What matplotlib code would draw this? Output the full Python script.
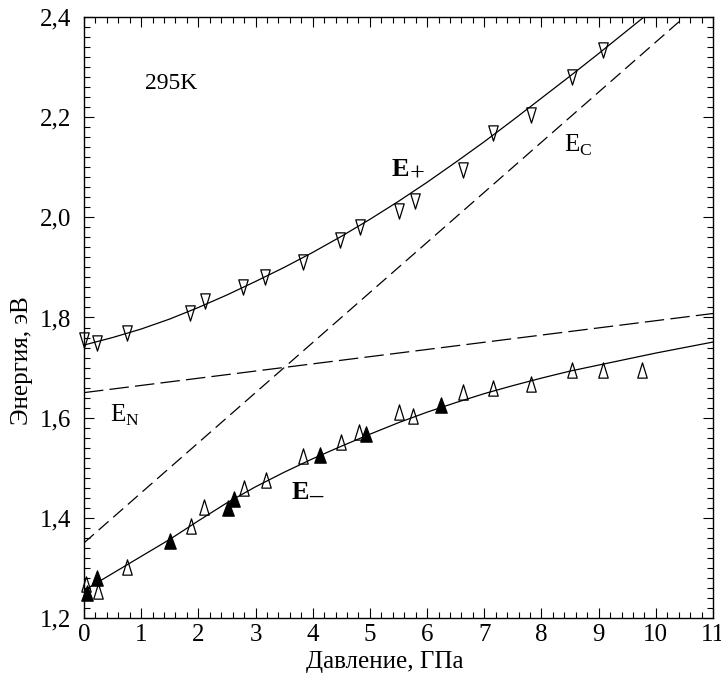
import numpy as np
import matplotlib
matplotlib.use('Agg')
import matplotlib.pyplot as plt
from matplotlib.path import Path
from matplotlib.ticker import MultipleLocator, FuncFormatter

plt.rcParams['font.family'] = ['Liberation Serif', 'DejaVu Serif']
plt.rcParams['mathtext.fontset'] = 'custom'
plt.rcParams['mathtext.rm'] = 'Liberation Serif'
plt.rcParams['mathtext.bf'] = 'Liberation Serif:bold'
plt.rcParams['lines.scale_dashes'] = False

# E+ data (open down triangles)
ep_x = [0.0, 0.23, 0.76, 1.85, 2.12, 2.78, 3.16, 3.83, 4.48, 4.83, 5.51, 5.79,
        6.63, 7.16, 7.81, 8.53, 9.08]
ep_y = [1.755, 1.749, 1.769, 1.808, 1.832, 1.861, 1.881, 1.911, 1.955, 1.981,
        2.012, 2.033, 2.095, 2.168, 2.205, 2.281, 2.335]

# E- data, open up triangles
em_open_x = [0.03, 0.25, 0.76, 1.87, 2.10, 2.79, 3.18, 3.83, 4.49, 4.81, 5.51,
             5.76, 6.63, 7.16, 7.81, 8.54, 9.08, 9.75]
em_open_y = [1.268, 1.253, 1.301, 1.384, 1.421, 1.460, 1.475, 1.524, 1.551, 1.571,
             1.611, 1.603, 1.651, 1.659, 1.668, 1.696, 1.696, 1.696]

# E- data, filled up triangles
em_fill_x = [0.05, 0.23, 1.50, 2.51, 2.63, 4.13, 4.94, 6.24]
em_fill_y = [1.250, 1.279, 1.353, 1.419, 1.438, 1.526, 1.568, 1.625]

# fitted curves
fit_p_x = [0, 0.5, 1, 1.5, 2, 2.5, 3, 3.5, 4, 4.5, 5, 5.5, 6, 6.5, 7, 7.5, 8,
           8.5, 9, 9.5, 10]
fit_p_y = [1.745, 1.760, 1.777, 1.797, 1.820, 1.845, 1.872, 1.900, 1.930, 1.962,
           1.996, 2.032, 2.070, 2.110, 2.151, 2.194, 2.238, 2.282, 2.327, 2.373,
           2.419]
fit_m_x = [0, 0.5, 1, 1.5, 2, 2.5, 3, 3.5, 4, 4.5, 5, 5.5, 6, 6.5, 7, 7.5, 8,
           8.5, 9, 9.5, 10, 10.5, 11]
fit_m_y = [1.255, 1.289, 1.323, 1.357, 1.394, 1.430, 1.462, 1.491, 1.518, 1.543,
           1.567, 1.590, 1.611, 1.630, 1.648, 1.664, 1.679, 1.693, 1.705, 1.717,
           1.729, 1.740, 1.751]

# unperturbed levels (dashed)
ec_x = [0, 11]
ec_y = [1.35, 2.45]
en_x = [0, 11]
en_y = [1.65, 1.808]

# narrow triangles like the original
codes = [Path.MOVETO, Path.LINETO, Path.LINETO, Path.CLOSEPOLY]
tri_down = Path([(-0.62, 1), (0.62, 1), (0, -1), (-0.62, 1)], codes)
tri_up = Path([(-0.62, -1), (0.62, -1), (0, 1), (-0.62, -1)], codes)
tri_up_fill = Path([(-0.75, -1), (0.75, -1), (0, 1), (-0.75, -1)], codes)

fig = plt.figure(figsize=(7.21, 6.73), dpi=100)
ax = fig.add_axes([84/721, 1 - 618/673, 629/721, 601/673])

ax.plot(ec_x, ec_y, color='k', lw=0.9, dashes=(9.5, 4.5))
ax.plot(en_x, en_y, color='k', lw=0.9, dashes=(14, 4.5))
ax.plot(fit_p_x, fit_p_y, color='k', lw=0.9)
ax.plot(fit_m_x, fit_m_y, color='k', lw=0.9)

ax.plot(ep_x, ep_y, ls='none', marker=tri_down, ms=11, mfc='none',
        mec='k', mew=0.9, clip_on=False)
ax.plot(em_open_x, em_open_y, ls='none', marker=tri_up, ms=11, mfc='none',
        mec='k', mew=0.9, clip_on=False)
ax.plot(em_fill_x, em_fill_y, ls='none', marker=tri_up_fill, ms=11, mfc='k',
        mec='k', mew=0.9, clip_on=False)

ax.set_xlim(0, 11)
ax.set_ylim(1.2, 2.4)
ax.xaxis.set_major_locator(MultipleLocator(1))
ax.xaxis.set_minor_locator(MultipleLocator(0.2))
ax.yaxis.set_major_locator(MultipleLocator(0.2))
ax.yaxis.set_minor_locator(MultipleLocator(0.02))
ax.xaxis.set_major_formatter(FuncFormatter(lambda v, p: f'{v:.0f}'))
ax.yaxis.set_major_formatter(FuncFormatter(lambda v, p: f'{v:.1f}'.replace('.', ',')))

ax.tick_params(which='both', direction='in', top=True, right=True, width=0.8)
ax.tick_params(which='major', length=7, labelsize=18)
ax.tick_params(which='minor', length=4)
ax.tick_params(axis='x', pad=4)
ax.tick_params(axis='y', pad=9)
for s in ax.spines.values():
    s.set_linewidth(1.0)

ax.set_xlabel('Давление, ГПа', fontsize=18)
ax.set_ylabel('Энергия, эВ', fontsize=18)
ax.xaxis.set_label_coords(0.4785, -0.055)
ax.yaxis.set_label_coords(-0.081, 0.4276)

ax.text(1.07, 2.268, '295K', fontsize=17, va='center', ha='left')

# E+ / E- labels: bold E with a large lowered sign
ax.text(5.38, 2.082, 'E', fontsize=19, fontweight='bold', va='baseline', ha='left')
ax.annotate('+', xy=(5.38, 2.082), xytext=(13, -3), textcoords='offset points',
            fontsize=19, va='baseline', ha='left')
ax.text(3.63, 1.438, 'E', fontsize=19, fontweight='bold', va='baseline', ha='left')
ax.annotate('–', xy=(3.63, 1.438), xytext=(12.5, -3), textcoords='offset points',
            fontsize=19, fontweight='bold', va='baseline', ha='left')

ax.text(8.39, 2.13, r'E$_\mathrm{C}$', fontsize=18, va='baseline', ha='left')
ax.text(0.455, 1.592, r'E$_\mathrm{N}$', fontsize=18, va='baseline', ha='left')

fig.savefig('out.png', dpi=100)
